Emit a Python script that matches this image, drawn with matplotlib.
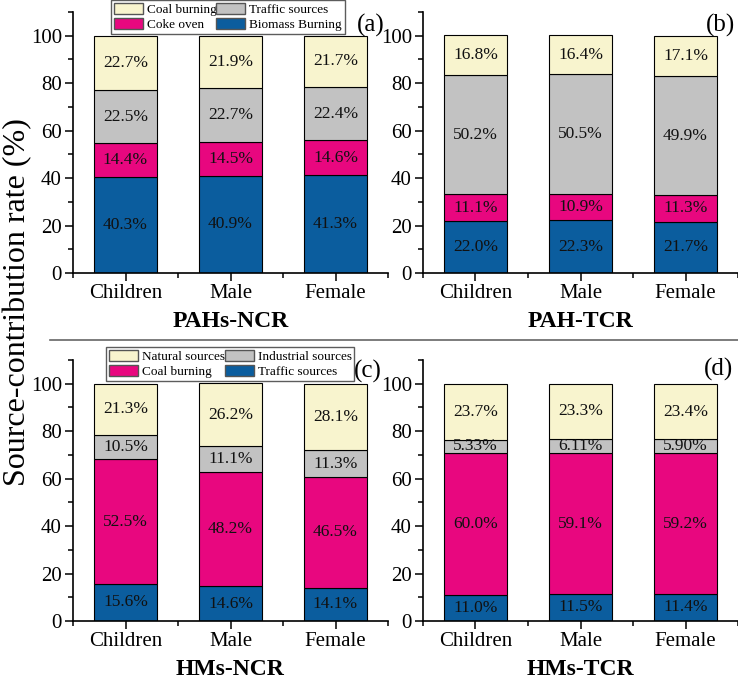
import matplotlib
matplotlib.use("Agg")
import matplotlib.pyplot as plt
from matplotlib.patches import Patch
from matplotlib.lines import Line2D
from matplotlib.ticker import MultipleLocator, FixedLocator
import numpy as np

plt.rcParams['font.family'] = ['Liberation Serif', 'DejaVu Serif']

groups = ["Children", "Male", "Female"]

# PAHs-NCR (a)
a_biomass = [40.3, 40.9, 41.3]
a_coke = [14.4, 14.5, 14.6]
a_traffic = [22.5, 22.7, 22.4]
a_coal = [22.7, 21.9, 21.7]
# PAH-TCR (b)
b_biomass = [22.0, 22.3, 21.7]
b_coke = [11.1, 10.9, 11.3]
b_traffic = [50.2, 50.5, 49.9]
b_coal = [16.8, 16.4, 17.1]
# HMs-NCR (c)
c_traffic = [15.6, 14.6, 14.1]
c_coal = [52.5, 48.2, 46.5]
c_industrial = [10.5, 11.1, 11.3]
c_natural = [21.3, 26.2, 28.1]
# HMs-TCR (d)
d_traffic = [11.0, 11.5, 11.4]
d_coal = [60.0, 59.1, 59.2]
d_industrial = [5.33, 6.11, 5.90]
d_natural = [23.7, 23.3, 23.4]

pah_names = ["Biomass Burning", "Coke oven", "Traffic sources", "Coal burning"]
hm_names = ["Traffic sources", "Coal burning", "Industrial sources", "Natural sources"]
colors = ["#0B5D9E", "#E8077F", "#C2C2C2", "#F8F4CE"]

titles = ["PAHs-NCR", "PAH-TCR", "HMs-NCR", "HMs-TCR"]
letters = ["(a)", "(b)", "(c)", "(d)"]

panels = [
    ([a_biomass, a_coke, a_traffic, a_coal], [1, 1, 1, 1]),
    ([b_biomass, b_coke, b_traffic, b_coal], [1, 1, 1, 1]),
    ([c_traffic, c_coal, c_industrial, c_natural], [1, 1, 1, 1]),
    ([d_traffic, d_coal, d_industrial, d_natural], [1, 1, 2, 1]),
]

W, H = 738, 683
fig = plt.figure(figsize=(W / 100, H / 100), dpi=100)

def rect(l, t, r, b):
    return [l / W, 1 - b / H, (r - l) / W, (b - t) / H]

boxes = [rect(73, 12, 388, 273), rect(423, 12, 738, 273),
         rect(73, 360, 388, 621), rect(423, 360, 738, 621)]
letter_pos = [(385, 25), (735, 25), (382, 371), (733, 369)]

x = np.arange(len(groups))
axes = []
for i, (series, decs) in enumerate(panels):
    ax = fig.add_axes(boxes[i])
    axes.append(ax)
    bottom = np.zeros(len(groups))
    for s, col, d in zip(series, colors, decs):
        vals = np.array(s)
        ax.bar(x, vals, 0.6, bottom=bottom, color=col, edgecolor="black",
               linewidth=0.8, zorder=2)
        for xi, v, b0 in zip(x, vals, bottom):
            ax.text(xi, b0 + v / 2, f"{v:.{d}f}%", ha="center", va="center",
                    fontsize=12.5, color="#111111", zorder=3)
        bottom = bottom + vals
    ax.set_xlim(-0.5, 2.5)
    ax.set_ylim(0, 110)
    ax.set_xticks(x)
    ax.set_xticklabels(groups, fontsize=15)
    ax.xaxis.set_minor_locator(FixedLocator([-0.5, 0.5, 1.5, 2.5]))
    ax.set_yticks([0, 20, 40, 60, 80, 100])
    ax.yaxis.set_minor_locator(MultipleLocator(10))
    ax.tick_params(axis="y", labelsize=15)
    ax.tick_params(which="major", direction="out", length=6, width=1.1, pad=2)
    ax.tick_params(which="minor", direction="out", length=3.5, width=1.1)
    for sp in ["top", "right"]:
        ax.spines[sp].set_visible(False)
    for sp in ["left", "bottom"]:
        ax.spines[sp].set_linewidth(1.2)
    ax.set_xlabel(titles[i], fontsize=17, fontweight="bold", labelpad=6)
    lx, ly = letter_pos[i]
    fig.text(lx / W, 1 - ly / H, letters[i], ha="right", va="center", fontsize=18)

def make_legend(ax, names, anchor):
    h = [Patch(facecolor=colors[3], edgecolor="#555555", linewidth=1, label=names[3]),
         Patch(facecolor=colors[1], edgecolor="#555555", linewidth=1, label=names[1]),
         Patch(facecolor=colors[2], edgecolor="#555555", linewidth=1, label=names[2]),
         Patch(facecolor=colors[0], edgecolor="#555555", linewidth=1, label=names[0])]
    leg = ax.legend(handles=h, ncol=2, loc="upper left", bbox_to_anchor=anchor,
                    bbox_transform=fig.transFigure, fontsize=9.5, frameon=True,
                    fancybox=False, edgecolor="#333333", handlelength=2.2,
                    handleheight=0.9, handletextpad=0.3, columnspacing=0.0,
                    labelspacing=0.2, borderpad=0.2, borderaxespad=0)
    leg.get_frame().set_linewidth(1.0)
    return leg

make_legend(axes[0], pah_names, (111 / W, 1 - 0 / H))
make_legend(axes[2], hm_names, (106 / W, 1 - 347 / H))

fig.add_artist(Line2D([50 / W, 1.0], [1 - 340 / H, 1 - 340 / H],
                      transform=fig.transFigure, color="#666666", linewidth=1.2))

fig.text(18 / W, 1 - 302 / H, "Source-contribution rate (%)", rotation=90,
         ha="center", va="center", fontsize=23)

fig.savefig("out.png", dpi=100)
